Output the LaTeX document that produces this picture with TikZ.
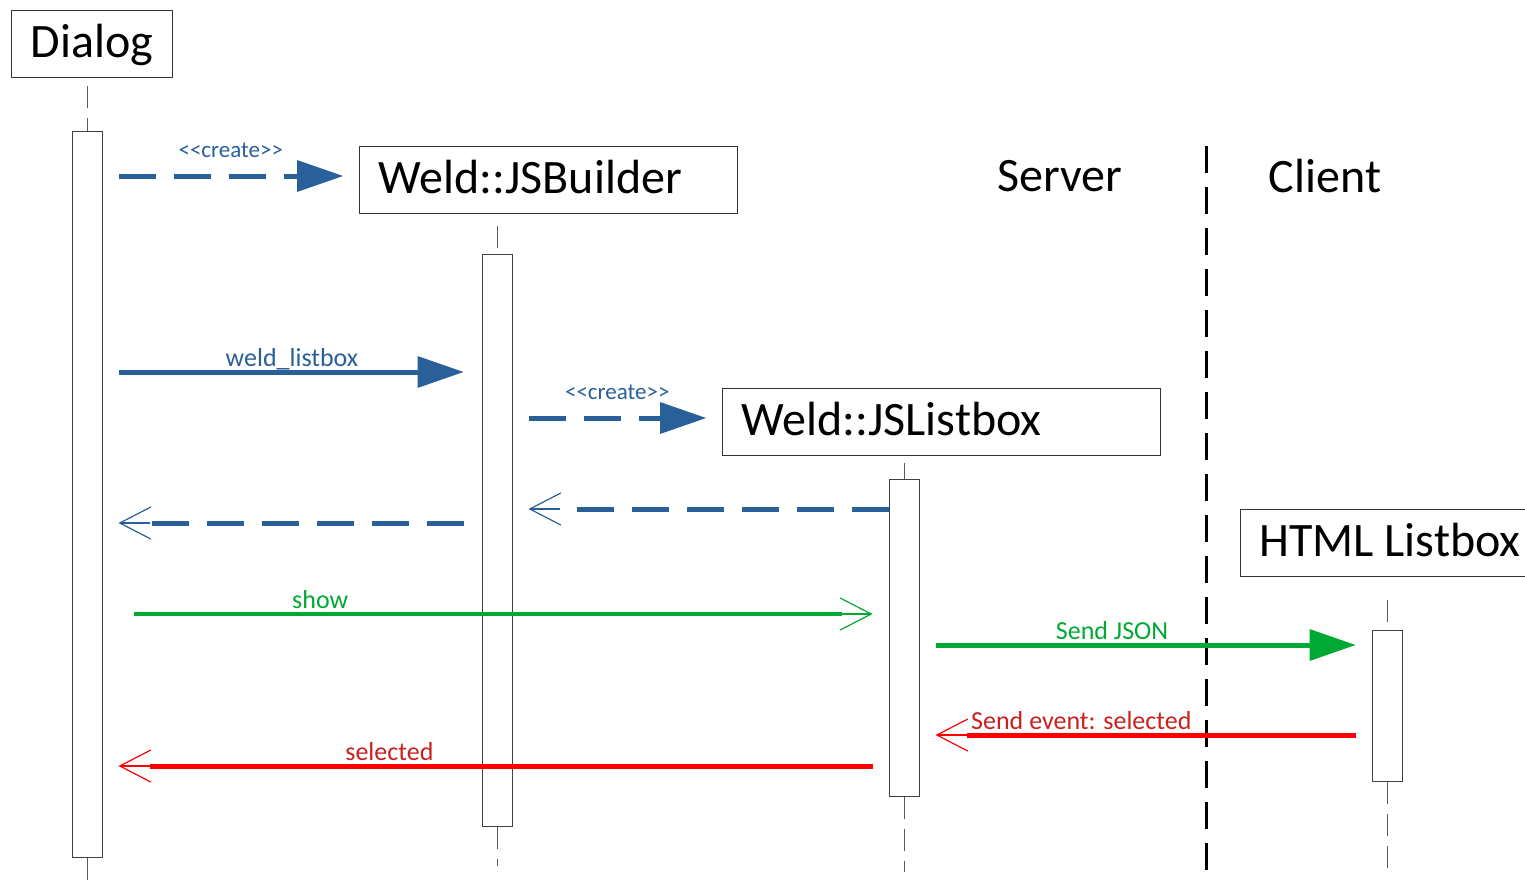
\documentclass[tikz,border=0pt]{standalone}
\usepackage{fontspec}
\setmainfont{Carlito}
\usepackage{xcolor}
\usetikzlibrary{arrows.meta,positioning,decorations.markings}

\definecolor{msgblue}{HTML}{2A6099}
\definecolor{msggreen}{HTML}{00A933}
\definecolor{msgred}{HTML}{FF0000}
\definecolor{lblred}{HTML}{C9211E}

\newcommand{\stereotype}[1]{<\kern0pt<#1>\kern0pt>}

\begin{document}
\begin{tikzpicture}[
    x=0.5pt, y=-0.5pt,
    obj/.style={draw=black!80, line width=0.6pt, anchor=north west, minimum height=33.5pt, inner xsep=9.5pt, inner ysep=0pt, text height=18pt, text depth=4.5pt, align=left, font=\fontsize{24}{28}\selectfont},
    act/.style={draw=black!75, fill=white, line width=0.5pt, minimum width=15pt, inner sep=0pt, anchor=north},
    life/.style={draw=black!65, line width=0.5pt, dash pattern=on 11pt off 5pt},
    divider/.style={draw=black, line width=1.5pt, dash pattern=on 13.5pt off 7pt},
    broken/.style={dash pattern=on 18.5pt off 9pt},
    call/.style={line width=2.5pt, shorten <=8pt, shorten >=8pt, -{Triangle[length=23pt,width=16pt,line width=0pt]}},
    openmsg/.style={line width=2.5pt, shorten <=8pt, shorten >=23.5pt,
        postaction={decorate, decoration={markings, mark=at position -8pt with
        {\draw[#1, solid, line width=0.6pt, shorten >=0pt, shorten <=0pt, -{Straight Barb[length=15.5pt,width=16pt]}] (-15.5pt,0) -- (0pt,0);}}}},
    lbl/.style={anchor=base, yshift=3pt, inner sep=0pt, font=\fontsize{13}{15}\selectfont},
    stereo/.style={anchor=base, yshift=9.5pt, inner sep=0pt, font=\fontsize{11.5}{13}\selectfont}
]
\useasboundingbox (0,0) rectangle (1525,884);
\fill[white] (0,0) rectangle (1525,884);

% Objects
\node[obj, minimum width=80.5pt, align=center] (dlg) at (11,10) {Dialog};
\node[obj, text width=170pt] (jsb) at (359,146) {Weld::JSBuilder};
\node[obj, text width=200pt] (jsl) at (722,388) {Weld::JSListbox};
\node[obj, text width=200pt] (html) at (1240,509) {HTML\hspace{0.22em}Listbox};

% Server / Client
\node[font=\fontsize{24}{28}\selectfont] (srv) at (1060,176) {Server};
\node[font=\fontsize{24}{28}\selectfont] (cli) at (1325,176) {Client};
\draw[divider] (1206,146) -- (1206,884);

% Activations
\node[act, minimum height=363pt] (actD) at (87,131) {};
\node[act, minimum height=286pt] (actB) at (497,254) {};
\node[act, minimum height=158.5pt] (actL) at (904,479) {};
\node[act, minimum height=75.5pt] (actH) at (1387,630) {};

% Lifelines
\draw[life] (actD.north |- 0,86) -- (actD.north);
\draw[life] (actD.south) -- (actD.south |- 0,884);
\draw[life] (actB.north |- 0,226) -- (actB.north);
\draw[life] (actB.south) -- (actB.south |- 0,866);
\draw[life] (actL.north |- 0,463) -- (actL.north);
\draw[life] (actL.south) -- (actL.south |- 0,872);
\draw[life] (actH.north |- 0,600) -- (actH.north);
\draw[life] (actH.south) -- (actH.south |- 0,872);

% Messages
\draw[call, broken, msgblue] (actD.east |- 0,176) -- (jsb.west |- 0,176)
    node[stereo, midway] {\stereotype{create}};
\draw[call, msgblue, shorten >=9pt] (actD.east |- 0,372) -- (actB.west |- 0,372)
    node[lbl, midway] {weld\_listbox};
\draw[call, broken, msgblue] (actB.east |- 0,418) -- (jsl.west |- 0,418)
    node[stereo, midway] {\stereotype{create}};

% Replies
\draw[openmsg=msgblue, broken, msgblue, shorten <=0pt] (actL.west |- 0,509) -- (actB.east |- 0,509);
\draw[openmsg=msgblue, broken, msgblue, shorten <=9pt] (actB.west |- 0,523) -- (actD.east |- 0,523);

% show / JSON
\draw[openmsg=msggreen, msggreen, line width=2.2pt, shorten <=15.5pt] (actD.east |- 0,614) -- (actL.west |- 0,614)
    node[lbl, pos=0.277] {show};
\draw[call, msggreen] (actL.east |- 0,645) -- (actH.west |- 0,645)
    node[lbl, pos=0.426] {Send JSON};

% selection events
\draw[openmsg=msgred, msgred] (actH.west |- 0,735) -- (actL.east |- 0,735)
    node[lbl, pos=0.642, text=lblred] {Send event: selected};
\draw[openmsg=msgred, msgred] (actL.west |- 0,766) -- (actD.east |- 0,766)
    node[lbl, pos=0.635, text=lblred] {selected};

\end{tikzpicture}
\end{document}
